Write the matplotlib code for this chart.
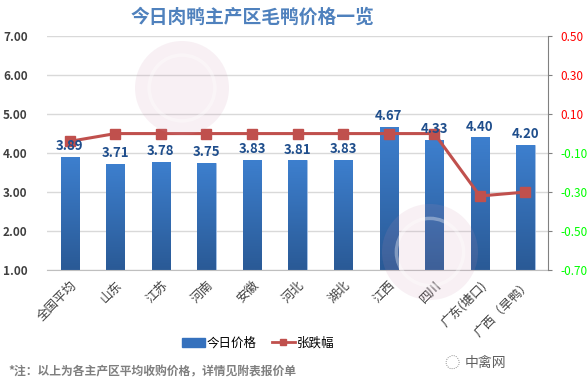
import matplotlib
matplotlib.use('Agg')
from matplotlib import pyplot as plt
from matplotlib.colors import LinearSegmentedColormap
from matplotlib.lines import Line2D
from matplotlib.patches import Patch, Ellipse
import numpy as np

plt.rcParams['font.family'] = ['Noto Sans CJK SC', 'DejaVu Sans']

regions = ['全国平均', '山东', '江苏', '河南', '安徽', '河北', '湖北', '江西', '四川',
           '广东(塘口)', '广西（旱鸭）']
prices = [3.89, 3.71, 3.78, 3.75, 3.83, 3.81, 3.83, 4.67, 4.33, 4.40, 4.20]
changes = [-0.04, 0.0, 0.0, 0.0, 0.0, 0.0, 0.0, 0.0, 0.0, -0.32, -0.30]
left_ticks = [1.0, 2.0, 3.0, 4.0, 5.0, 6.0, 7.0]
right_ticks = [-0.7, -0.5, -0.3, -0.1, 0.1, 0.3, 0.5]

W, H = 587, 392
fig = plt.figure(figsize=(W / 100, H / 100), dpi=100)
ax = fig.add_axes([0.08, 0.311, 0.854, 0.597])
x = np.arange(len(regions))

bars = ax.bar(x, prices, width=0.4, bottom=0, color='#3571BD', zorder=2,
              edgecolor='#A9C4E8', linewidth=0.5)
grad = LinearSegmentedColormap.from_list('g', ['#2A5A96', '#3D7FCE'])
gimg = np.linspace(0, 1, 100).reshape(-1, 1)
for b in bars:
    im = ax.imshow(gimg, extent=[b.get_x(), b.get_x() + b.get_width(), 1.0, b.get_height()],
                   origin='lower', aspect='auto', cmap=grad, zorder=2.1)
    im.set_clip_path(b)

ax.set_xlim(-0.5, len(regions) - 0.5)
ax.set_ylim(1, 7)
ax.set_yticks(left_ticks)
ax.set_yticklabels([f'{t:.2f}' for t in left_ticks], fontsize=8.5, fontweight='bold',
                   color='#404040')
ax.yaxis.grid(True, color='#D9D9D9', linewidth=1, zorder=0)
ax.set_axisbelow(True)
ax.tick_params(axis='y', length=0, pad=14)
ax.set_xticks(x)
ax.set_xticklabels(regions, rotation=45, ha='right', rotation_mode='anchor', fontsize=9,
                   color='#404040')
ax.tick_params(axis='x', length=0, pad=6)
for s in ['top', 'left', 'right']:
    ax.spines[s].set_visible(False)
ax.spines['bottom'].set_color('#BFBFBF')

ax2 = ax.twinx()
ax2.plot(x, changes, color='#C0504D', linewidth=2.2, marker='s', markersize=7,
         markerfacecolor='#C0504D', markeredgecolor='#C0504D', zorder=4)
ax2.set_ylim(-0.7, 0.5)
ax2.set_yticks(right_ticks)
ax2.set_yticklabels([f'{t:.2f}' for t in right_ticks], fontsize=8.5)
for lbl, t in zip(ax2.get_yticklabels(), right_ticks):
    lbl.set_color('#FF0000' if t > 0 else '#00FF00')
ax2.tick_params(axis='y', length=3, color='#808080', pad=6)
for s in ['top', 'left', 'bottom']:
    ax2.spines[s].set_visible(False)
ax2.spines['right'].set_color('#808080')

# price labels drawn on top of the line
for xi, p in zip(x, prices):
    ax2.text(xi, p + 0.1, f'{p:.2f}', transform=ax.transData, ha='center', va='bottom',
             fontsize=9.5, fontweight='bold', color='#1F4E8C', zorder=5)

# faint watermark discs
for cx, cy, r in [(182, 88, 47), (430, 252, 48)]:
    fig.patches.append(Ellipse((cx / W, 1 - cy / H), 2 * r / W, 2 * r / H,
                               transform=fig.transFigure, facecolor='#C98FAE',
                               alpha=0.13, edgecolor='none', zorder=10))
    fig.patches.append(Ellipse((cx / W, 1 - cy / H), 1.4 * r / W, 1.4 * r / H,
                               transform=fig.transFigure, facecolor='none',
                               edgecolor='white', alpha=0.35, linewidth=2.5, zorder=10))

fig.text(0.43, 0.955, '今日肉鸭主产区毛鸭价格一览', ha='center', va='center', fontsize=13.5,
         fontweight='bold', color='#4F81BD')

handles = [Patch(facecolor='#3571BD', edgecolor='#3571BD'),
           Line2D([0], [0], color='#C0504D', linewidth=2, marker='s', markersize=5)]
fig.legend(handles, ['今日价格', '张跌幅'], loc='center', bbox_to_anchor=(0.44, 0.125),
           ncol=2, frameon=False, fontsize=9, handlelength=1.8, columnspacing=1.2,
           handletextpad=0.2)

fig.text(0.015, 0.05, '*注：以上为各主产区平均收购价格，详情见附表报价单', ha='left', va='center',
         fontsize=8.5, fontweight='bold', color='#7F7F7F')
fig.text(0.862, 0.073, '中禽网', ha='right', va='center', fontsize=10, color='#606060')
fig.text(0.77, 0.073, '◌', ha='center', va='center', fontsize=11, color='#909090')

fig.savefig('out.png', dpi=100)
